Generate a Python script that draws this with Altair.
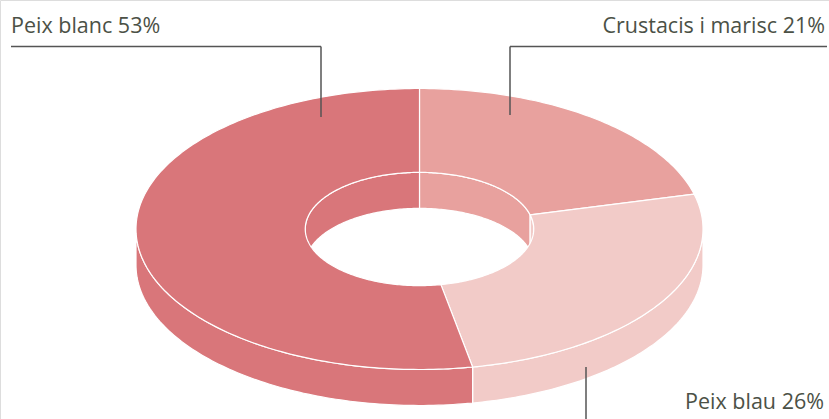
import numpy as np
import pandas as pd
import altair as alt

# ---- data ----
categories = ["Crustacis i marisc", "Peix blau", "Peix blanc"]
shares = [21, 26, 53]
colors = ["#e8a19e", "#f2cbc8", "#d9767a"]
labels = [f"{c} {s}%" for c, s in zip(categories, shares)]

# ---- layout (pixels) ----
W, H = 829, 419
CX, CY = 419.5, 229.0
RX, RY = 283.5, 140.5
HOLE = 0.403
DEPTH = 36

cum = np.concatenate([[0], np.cumsum(shares)]) / sum(shares) * 360.0


def arc(a0, a1, rx, ry, dy=0.0):
    n = max(2, int(abs(a1 - a0)) + 2)
    th = np.radians(np.linspace(a0, a1, n))
    return list(zip(CX + rx * np.sin(th), CY - ry * np.cos(th) + dy))


def add_poly(rows, pid, cat, pts):
    pts = pts + [pts[0]]
    for i, (x, y) in enumerate(pts):
        rows.append({"poly": pid, "cat": cat, "ord": i, "x": x, "y": y})


side_rows, wall_rows, top_rows = [], [], []
for k, cat in enumerate(categories):
    a0, a1 = cum[k], cum[k + 1]
    # top face (annular sector)
    pts = arc(a0, a1, RX, RY) + arc(a1, a0, RX * HOLE, RY * HOLE)
    add_poly(top_rows, f"top{k}", cat, pts)
    # outer side wall, front half only
    lo, hi = max(a0, 90), min(a1, 270)
    if hi > lo:
        pts = arc(lo, hi, RX, RY) + arc(hi, lo, RX, RY, DEPTH)
        add_poly(side_rows, f"side{k}", cat, pts)
    # inner wall, back half only
    for j, (r0, r1) in enumerate([(0, 90), (270, 360)]):
        lo, hi = max(a0, r0), min(a1, r1)
        if hi > lo:
            pts = arc(lo, hi, RX * HOLE, RY * HOLE) + arc(hi, lo, RX * HOLE, RY * HOLE, DEPTH)
            add_poly(wall_rows, f"wall{k}_{j}", cat, pts)

xs = alt.Scale(domain=[0, W], nice=False, zero=False)
ys = alt.Scale(domain=[0, H], nice=False, zero=False, reverse=True)
fs = alt.Scale(domain=categories, range=colors)


def poly_layer(rows):
    return alt.Chart(pd.DataFrame(rows)).mark_line(
        stroke="white", strokeWidth=1.2, strokeJoin="round"
    ).encode(
        x=alt.X("x:Q", scale=xs, axis=None),
        y=alt.Y("y:Q", scale=ys, axis=None),
        detail="poly:N",
        order="ord:Q",
        fill=alt.Fill("cat:N", scale=fs, legend=None),
    )


# labels and leader lines
text_df = pd.DataFrame({
    "label": labels,
    "x": [825, 824, 11],
    "y": [33, 409, 33],
    "align": ["right", "right", "left"],
})
rule_df = pd.DataFrame({
    "x": [510, 510, 11, 321, 586],
    "y": [46.5, 46.5, 46.5, 46.5, 367],
    "x2": [827, 510, 321, 321, 586],
    "y2": [46.5, 115, 46.5, 117, 419],
})

rules = alt.Chart(rule_df).mark_rule(color="#555555", strokeWidth=1.5).encode(
    x=alt.X("x:Q", scale=xs, axis=None),
    y=alt.Y("y:Q", scale=ys, axis=None),
    x2="x2:Q",
    y2="y2:Q",
)

FONT = "Open Sans"
FSIZE = 21.5

text_left = alt.Chart(text_df[text_df["align"] == "left"]).mark_text(
    align="left", baseline="alphabetic", font=FONT, fontSize=FSIZE, color="#4b5146"
).encode(x=alt.X("x:Q", scale=xs, axis=None), y=alt.Y("y:Q", scale=ys, axis=None), text="label:N")

text_right = alt.Chart(text_df[text_df["align"] == "right"]).mark_text(
    align="right", baseline="alphabetic", font=FONT, fontSize=FSIZE, color="#4b5146"
).encode(x=alt.X("x:Q", scale=xs, axis=None), y=alt.Y("y:Q", scale=ys, axis=None), text="label:N")

chart = alt.layer(
    poly_layer(side_rows),
    poly_layer(wall_rows),
    poly_layer(top_rows),
    rules,
    text_left,
    text_right,
).properties(
    width=W, height=H, autosize=alt.AutoSizeParams(type="none"), padding=0
).configure_view(stroke=None).configure(background="white")

chart.save("out.html", embed_options={"renderer": "svg", "actions": False})
